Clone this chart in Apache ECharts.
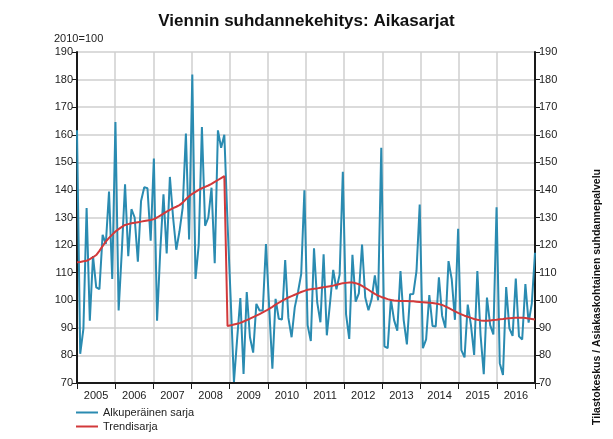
<!DOCTYPE html>
<html lang="fi">
<head>
    <meta charset="UTF-8">
    <title>Viennin suhdannekehitys</title>
    <script src="https://cdn.jsdelivr.net/npm/echarts@6/dist/echarts.min.js" type="text/javascript"></script>
</head>
<body style="margin:0;background:#fff;">
<div id="chart" style="width:613px;height:439px;"></div>

<script>
    // vuodet (x-akselin tekstit)
    var years = ['2005', '2006', '2007', '2008', '2009', '2010', '2011', '2012', '2013', '2014', '2015', '2016'];

    // alkuperäinen sarja, kuukausittain 2005-2016
    var alkuperainen = [
        161.6, 80.6, 89.6, 133.4, 92.6, 116, 104.7, 104, 123.7, 120.4, 139.4, 107.7,
        164.6, 96.3, 118, 142, 116, 133, 130, 114, 136, 141, 140.6, 121.6,
        151.4, 92.6, 118, 138.4, 117, 144.7, 130, 118.3, 125, 133.6, 160.4, 122,
        181.8, 107.7, 120, 162.8, 127, 130, 140.8, 113.4, 161.6, 155.3, 160, 128,
        100, 70.4, 86, 100.8, 73.3, 103, 86.6, 81, 98.7, 96.3, 96.3, 120.4,
        97.5, 75.2, 100.5, 93.3, 93, 114.6, 93.6, 86.6, 97.5, 103, 109.5, 139.9,
        91, 85.2, 118.8, 99.2, 92, 116.7, 87.3, 99, 111, 104, 109.3, 146.6,
        95, 86, 116.5, 99.5, 102.5, 120.2, 101, 96.4, 100.5, 109, 100, 155.3,
        83.3, 82.6, 100.3, 92.8, 89, 110.6, 92.8, 84, 102.2, 102.3, 110.6, 134.7,
        82.6, 85.8, 101.9, 90.7, 90.5, 108.3, 94.4, 90, 114.2, 107.6, 92.9, 125.9,
        81.9, 79.3, 98.4, 91, 80.2, 110.6, 87.4, 73.2, 101, 91, 87.6, 133.7,
        77.2, 72.9, 104.8, 89.8, 87.1, 107.9, 86.9, 85.8, 105.9, 91.9, 98.8, 117.2
    ];

    // trendisarja
    var trendi = [
        113.8, 113.9, 114.1, 114.3, 114.9, 115.6, 116.4, 117.9, 119.6, 121.3, 122.6, 123.8,
        124.9, 125.8, 126.6, 127.3, 127.6, 127.9, 128.1, 128.3, 128.5, 128.7, 128.9, 129.1,
        129.4, 130, 130.7, 131.4, 132.1, 132.8, 133.4, 133.9, 134.5, 135.4, 136.6, 137.7,
        138.6, 139.3, 140, 140.6, 141.1, 141.6, 142.2, 142.9, 143.6, 144.3, 145, 90.7,
        90.9, 91.2, 91.5, 91.8, 92.3, 92.8, 93.3, 93.9, 94.4, 95, 95.6, 96.2,
        96.9, 97.6, 98.4, 99.1, 99.8, 100.4, 101, 101.5, 102, 102.5, 103, 103.4,
        103.8, 104, 104.2, 104.3, 104.5, 104.7, 104.9, 105.1, 105.3, 105.6, 105.9, 106.2,
        106.3, 106.4, 106.4, 106.2, 105.8, 105.2, 104.5, 103.8, 103, 102.3, 101.7, 101.2,
        100.8, 100.4, 100.1, 99.9, 99.8, 99.7, 99.7, 99.7, 99.6, 99.6, 99.5, 99.4,
        99.3, 99.2, 99.1, 99, 98.8, 98.6, 98.3, 97.8, 97.2, 96.6, 96, 95.4,
        94.9, 94.4, 94, 93.6, 93.2, 92.9, 92.7, 92.6, 92.6, 92.7, 92.8, 92.9,
        93.1, 93.2, 93.4, 93.5, 93.6, 93.7, 93.7, 93.7, 93.6, 93.4, 93.2, 93
    ];

    var yMin = 70, yMax = 190, yStep = 10;

    // kuukausikategoriat
    var months = [];
    for (var y = 0; y < years.length; y++) {
        for (var m = 1; m <= 12; m++) {
            months.push(years[y] + '-' + m);
        }
    }

    var font = '"Liberation Sans", Arial, sans-serif';

    var chart = echarts.init(document.getElementById('chart'));
    var yAxisBase = {
        type: 'value',
        min: yMin,
        max: yMax,
        interval: yStep,
        axisLine: {show: true, lineStyle: {color: '#1a1a1a', width: 2}},
        axisTick: {show: true, length: 5, lineStyle: {color: '#1a1a1a', width: 1}},
        axisLabel: {color: '#222', fontSize: 11, fontFamily: font, margin: 4}
    };

    chart.setOption({
        animation: false,
        textStyle: {fontFamily: font},
        title: {
            text: 'Viennin suhdannekehitys: Aikasarjat',
            left: 'center',
            top: 8,
            textStyle: {fontSize: 17, fontWeight: 'bold', color: '#111', fontFamily: font}
        },
        legend: {
            orient: 'vertical',
            left: 76,
            top: 407,
            height: 32,
            padding: 0,
            itemWidth: 22,
            itemHeight: 2,
            itemGap: 3,
            icon: 'rect',
            textStyle: {fontSize: 11, color: '#222', fontFamily: font},
            data: ['Alkuperäinen sarja', 'Trendisarja']
        },
        grid: {left: 77, right: 78, top: 52, bottom: 56},
        xAxis: [
            {
                type: 'category',
                data: years,
                boundaryGap: true,
                position: 'bottom',
                axisLine: {lineStyle: {color: '#1a1a1a', width: 2}},
                axisTick: {show: true, length: 6, alignWithLabel: false, lineStyle: {color: '#1a1a1a', width: 1}},
                axisLabel: {color: '#222', fontSize: 11, margin: 7},
                splitLine: {show: true, lineStyle: {color: '#cfcfcf', width: 1.5}}
            },
            {
                type: 'category',
                data: months,
                boundaryGap: false,
                show: false
            }
        ],
        yAxis: [
            Object.assign({}, yAxisBase, {
                position: 'left',
                splitLine: {show: true, lineStyle: {color: '#cfcfcf', width: 1.5}}
            }),
            Object.assign({}, yAxisBase, {
                position: 'right',
                splitLine: {show: false}
            })
        ],
        graphic: [
            {
                type: 'text',
                left: 54,
                top: 33,
                style: {text: '2010=100', fontSize: 11, fill: '#222', font: '11px ' + font}
            },
            {
                type: 'text',
                x: 597,
                y: 297,
                rotation: Math.PI / 2,
                style: {
                    text: 'Tilastokeskus / Asiakaskohtainen suhdannepalvelu',
                    fill: '#111',
                    font: 'bold 10.5px ' + font,
                    align: 'center',
                    verticalAlign: 'middle'
                }
            }
        ],
        series: [
            {
                name: 'Alkuperäinen sarja',
                type: 'line',
                xAxisIndex: 1,
                yAxisIndex: 0,
                data: alkuperainen,
                showSymbol: false,
                lineStyle: {color: '#2a8bb1', width: 2},
                itemStyle: {color: '#2a8bb1'}
            },
            {
                name: 'Trendisarja',
                type: 'line',
                xAxisIndex: 1,
                yAxisIndex: 0,
                data: trendi,
                showSymbol: false,
                lineStyle: {color: '#d2393a', width: 2},
                itemStyle: {color: '#d2393a'}
            }
        ]
    });
</script>
</body>
</html>
